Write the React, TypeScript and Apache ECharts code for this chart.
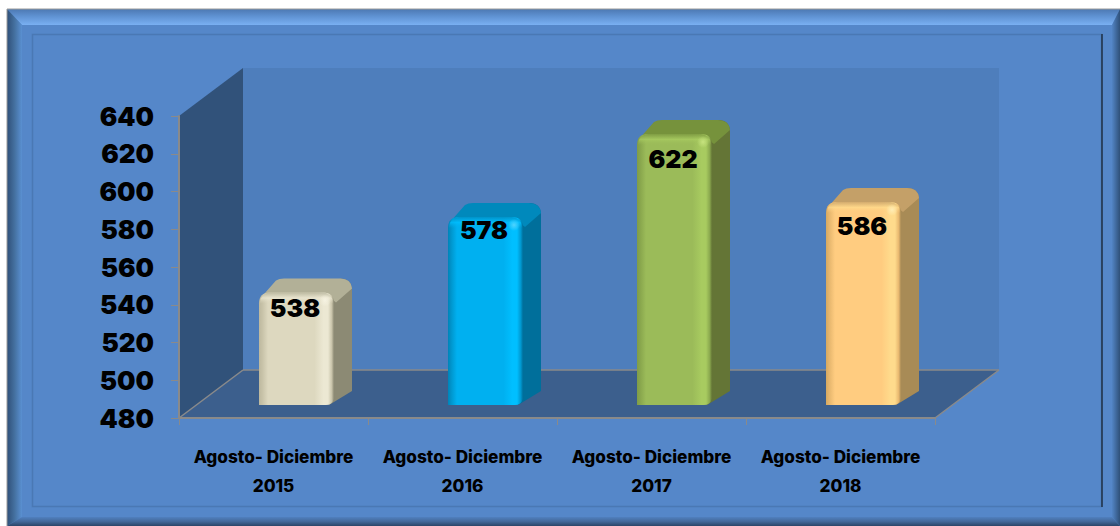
import React, { useEffect, useRef } from "react";
import * as echarts from "echarts";

const categories = [
  "Agosto- Diciembre\n2015",
  "Agosto- Diciembre\n2016",
  "Agosto- Diciembre\n2017",
  "Agosto- Diciembre\n2018",
];
const values = [538, 578, 622, 586];
const yTicks = { min: 480, max: 640, interval: 20 };
const labelDrop = [15, 13, 25, 24];

const palette = [
  { edge: "#BDB89E", front: "#DDD8BF", hi: "#ECE8D3", rim: "#C9C4AA", side: "#8C8A74", top: "#B2B097", spec: "#F6F3E2" },
  { edge: "#0083B8", front: "#00B0F0", hi: "#00BFFF", rim: "#0098D0", side: "#006F9B", top: "#0089BC", spec: "#4FD4FF" },
  { edge: "#7F9C47", front: "#9BBB59", hi: "#A8CB60", rim: "#8AA84E", side: "#647536", top: "#76923C", spec: "#C6E37E" },
  { edge: "#D6A961", front: "#FFCC80", hi: "#FFDB8C", rim: "#E8B86F", side: "#A88B56", top: "#C4A068", spec: "#FFEDB5" },
];

const FONT = "Inter";
const hGrad = (stops: [number, string][]) => ({
  type: "linear", x: 0, y: 0, x2: 1, y2: 0,
  colorStops: stops.map(([offset, color]) => ({ offset, color })),
});
const vGrad = (stops: [number, string][]) => ({
  type: "linear", x: 0, y: 0, x2: 0, y2: 1,
  colorStops: stops.map(([offset, color]) => ({ offset, color })),
});

const WALL_DX = 64, WALL_DY = 48;
const BAR_DX = 18, BAR_DY = 14;

function renderWalls(params: any) {
  const c = params.coordSys;
  const l = c.x, r = c.x + c.width, t = c.y, b = c.y + c.height;
  const line = { stroke: "#8A8A8A", lineWidth: 1.5 };
  return {
    type: "group",
    children: [
      { type: "polygon", shape: { points: [[l + WALL_DX, t - WALL_DY], [r + WALL_DX, t - WALL_DY], [r + WALL_DX, b - WALL_DY], [l + WALL_DX, b - WALL_DY]] }, style: { fill: "#4E7EBC" } },
      { type: "polygon", shape: { points: [[l, t], [l + WALL_DX, t - WALL_DY], [l + WALL_DX, b - WALL_DY], [l, b]] }, style: { fill: "#31527A" } },
      { type: "polygon", shape: { points: [[l, b], [l + WALL_DX, b - WALL_DY], [r + WALL_DX, b - WALL_DY], [r, b]] }, style: { fill: "#3C5F8D" } },
      { type: "line", shape: { x1: l, y1: b, x2: l + WALL_DX, y2: b - WALL_DY }, style: line },
      { type: "line", shape: { x1: l + WALL_DX, y1: b - WALL_DY, x2: r + WALL_DX, y2: b - WALL_DY }, style: line },
      { type: "line", shape: { x1: r, y1: b, x2: r + WALL_DX, y2: b - WALL_DY }, style: line },
    ],
  };
}

function renderBar(params: any, api: any) {
  const i = params.dataIndex;
  const p = palette[i];
  const base = api.coord([api.value(0), yTicks.min]);
  const tip = api.coord([api.value(0), api.value(1)]);
  const cx = base[0] + 22.5;
  const x0 = cx - 37, x1 = cx + 38;
  const by = base[1] - 13, ty = tip[1] - 16;
  const r = 11;
  const frontPath = `M${x0} ${by} L${x0} ${ty + r} Q${x0} ${ty} ${x0 + r} ${ty} L${x1 - r} ${ty} Q${x1} ${ty} ${x1} ${ty + r} L${x1} ${by - 6} Q${x1 - 2} ${by} ${x1 - 8} ${by} Z`;
  const sidePath = `M${x1 - 8} ${ty + 4} L${x1 + BAR_DX - 12} ${ty - BAR_DY} Q${x1 + BAR_DX} ${ty - BAR_DY} ${x1 + BAR_DX} ${ty - BAR_DY + 12} L${x1 + BAR_DX} ${by - BAR_DY} L${x1 - 5} ${by} Z`;
  const topPath = `M${x0 + 2} ${ty + 5} L${x0 + BAR_DX - 1} ${ty - BAR_DY + 2} Q${x0 + BAR_DX + 2} ${ty - BAR_DY} ${x0 + BAR_DX + 7} ${ty - BAR_DY} L${x1 + BAR_DX - 12} ${ty - BAR_DY} Q${x1 + BAR_DX - 1} ${ty - BAR_DY} ${x1 + BAR_DX} ${ty - BAR_DY + 10} L${x1 + 2} ${ty + 10} L${x1 - 8} ${ty + 2} Z`;
  return {
    type: "group",
    children: [
      { type: "path", shape: { pathData: sidePath, x: x1 - 8, y: ty - BAR_DY, width: BAR_DX + 8, height: by - ty + BAR_DY, layout: "cover" }, style: { fill: p.side } },
      { type: "path", shape: { pathData: topPath, x: x0 + 2, y: ty - BAR_DY, width: x1 + BAR_DX - x0 - 2, height: BAR_DY + 10, layout: "cover" }, style: { fill: p.top } },
      {
        type: "path",
        shape: { pathData: frontPath, x: x0, y: ty, width: x1 - x0, height: by - ty, layout: "cover" },
        style: {
          fill: hGrad([[0, p.edge], [0.05, p.rim], [0.12, p.front], [0.74, p.front], [0.86, p.hi], [0.92, p.hi], [0.97, p.rim], [1, p.side]]),
        },
      },
      {
        type: "rect",
        shape: { x: x0 + 1, y: ty, width: x1 - x0 - 2, height: 11, r: [10, 10, 0, 0] },
        style: { fill: vGrad([[0, p.top], [0.5, p.hi], [1, p.front + "00"]]), opacity: 0.75 },
      },
      {
        type: "circle",
        shape: { cx: x1 - 9, cy: ty + 8, r: 6 },
        style: { fill: { type: "radial", x: 0.5, y: 0.5, r: 0.5, colorStops: [{ offset: 0, color: p.spec }, { offset: 1, color: p.spec + "00" }] } },
      },
      {
        type: "text",
        style: {
          text: String(api.value(1)),
          x: cx - 1,
          y: ty + labelDrop[i],
          fill: "#000",
          font: `900 25px ${FONT}`,
          textAlign: "center",
          textVerticalAlign: "middle",
        },
      },
    ],
  };
}

function bevel(points: number[][], fill: any) {
  return { type: "polygon", shape: { points }, style: { fill }, z: -5 };
}

const frame = [
  { type: "rect", shape: { x: 7, y: 9, width: 1113, height: 517 }, style: { fill: "#5587C9" }, z: -6 },
  bevel([[7, 9], [1120, 9], [1112, 25], [22, 25]], vGrad([[0, "#4C78B2"], [0.45, "#5F92D2"], [1, "#7AB0F2"]])),
  bevel([[7, 9], [22, 25], [22, 517], [7, 526]], hGrad([[0, "#2F4F78"], [0.5, "#44709F"], [1, "#5A90D2"]])),
  bevel([[1120, 9], [1120, 526], [1112, 517], [1112, 25]], hGrad([[0, "#5284C4"], [1, "#2F5078"]])),
  bevel([[7, 526], [22, 517], [1112, 517], [1120, 526]], vGrad([[0, "#5080BF"], [0.5, "#43689A"], [1, "#2B4568"]])),
  { type: "line", shape: { x1: 7, y1: 9, x2: 1120, y2: 9 }, style: { stroke: "#9A9A9A", lineWidth: 1 }, z: -4 },
  { type: "line", shape: { x1: 7, y1: 9, x2: 7, y2: 526 }, style: { stroke: "#9A9A9A", lineWidth: 1 }, z: -4 },
  { type: "rect", shape: { x: 32.5, y: 34.5, width: 1069, height: 472 }, style: { fill: "#5587C9", stroke: "#4A78B4", lineWidth: 1.5 }, z: -4 },
  { type: "line", shape: { x1: 1102, y1: 34, x2: 1102, y2: 507 }, style: { stroke: "#1F2F45", lineWidth: 1.5 }, z: -3 },
];

export default function App() {
  const ref = useRef<HTMLDivElement>(null);
  useEffect(() => {
    document.body.style.margin = "0";
    const chart = echarts.init(ref.current!, undefined, { renderer: "svg" });
    chart.setOption({
      animation: false,
      backgroundColor: "#fff",
      graphic: { elements: frame },
      grid: { left: 179, right: 185, top: 116, bottom: 108 },
      xAxis: {
        type: "category",
        data: categories,
        z: 3,
        axisLine: { lineStyle: { color: "#8A8A8A", width: 2 } },
        axisTick: { show: true, length: 7, lineStyle: { color: "#8A8A8A", width: 1 } },
        axisLabel: {
          margin: 24,
          color: "#000",
          fontFamily: FONT,
          fontWeight: 800,
          fontSize: 17.2,
          lineHeight: 29,
          interval: 0,
        },
      },
      yAxis: {
        type: "value",
        min: yTicks.min,
        max: yTicks.max,
        interval: yTicks.interval,
        z: 3,
        splitLine: { show: false },
        axisLine: { show: true, lineStyle: { color: "#8A8A8A", width: 2 } },
        axisTick: { show: true, length: 8, lineStyle: { color: "#8A8A8A", width: 1 } },
        axisLabel: {
          margin: 25,
          color: "#000",
          fontFamily: FONT,
          fontWeight: 900,
          fontSize: 26,
        },
      },
      series: [
        { type: "custom", z: 1, silent: true, data: [[0, yTicks.min]], renderItem: renderWalls, clip: false },
        {
          type: "custom",
          z: 4,
          clip: false,
          data: values.map((v, i) => [i, v]),
          encode: { x: 0, y: 1 },
          renderItem: renderBar,
        },
      ],
    });
    return () => chart.dispose();
  }, []);
  return <div ref={ref} style={{ width: 1120, height: 526 }} />;
}
